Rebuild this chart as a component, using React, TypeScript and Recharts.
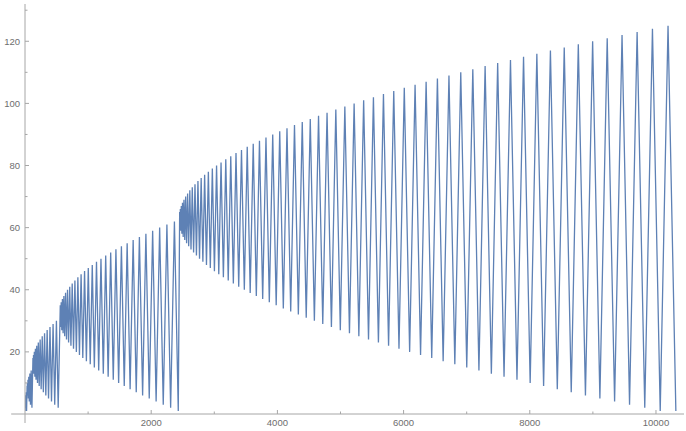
import { LineChart, Line, XAxis, YAxis, ReferenceLine } from "recharts";

// turning points of the walk
const startX = [1, 5, 7, 10, 14, 19, 25];
const startY = [1, 5, 3, 6, 2, 7, 1];

const block0X = [33, 35, 38, 42, 47, 53, 60, 68, 77, 87, 98, 110];
const block0Y = [9, 7, 10, 6, 11, 5, 12, 4, 13, 3, 14, 2];

const block1X = [126, 130, 135, 141, 148, 156, 165, 175, 186, 198, 211, 225, 240, 256, 273, 291, 310, 330, 351, 373, 396, 420, 445, 471, 498, 526];
const block1Y = [18, 14, 19, 13, 20, 12, 21, 11, 22, 10, 23, 9, 24, 8, 25, 7, 26, 6, 27, 5, 28, 4, 29, 3, 30, 2];

const block2X = [
  559, 566, 574, 583, 593, 604, 616, 629, 643, 658, 674, 691, 709, 728, 748, 769, 791, 814, 838, 863,
  889, 916, 944, 973, 1003, 1034, 1066, 1099, 1133, 1168, 1204, 1241, 1279, 1318, 1358, 1399, 1441, 1484,
  1528, 1573, 1619, 1666, 1714, 1763, 1813, 1864, 1916, 1969, 2023, 2078, 2134, 2191, 2249, 2308, 2368, 2429,
];
const block2Y = [
  35, 28, 36, 27, 37, 26, 38, 25, 39, 24, 40, 23, 41, 22, 42, 21, 43, 20, 44, 19,
  45, 18, 46, 17, 47, 16, 48, 15, 49, 14, 50, 13, 51, 12, 52, 11, 53, 10,
  54, 9, 55, 8, 56, 7, 57, 6, 58, 5, 59, 4, 60, 3, 61, 2, 62, 1,
];

const block3X = [
  2451, 2456, 2462, 2469, 2477, 2486,
  2496, 2507, 2519, 2532, 2546, 2561, 2577, 2594, 2612, 2631, 2651, 2672, 2694, 2717, 2741, 2766,
  2792, 2819, 2847, 2876, 2906, 2937, 2969, 3002, 3036, 3071, 3107, 3144, 3182, 3221, 3261, 3302,
  3344, 3387, 3431, 3476, 3522, 3569, 3617, 3666, 3716, 3767, 3819, 3872, 3926, 3981, 4037, 4094,
  4152, 4211, 4271, 4332, 4394, 4457, 4521, 4586, 4652, 4719, 4787, 4856, 4926, 4997, 5069, 5142,
  5216, 5291, 5367, 5444, 5522, 5601, 5681, 5762, 5844, 5927, 6011, 6096, 6182, 6269, 6357, 6446,
  6536, 6627, 6719, 6812, 6906, 7001, 7097, 7194, 7292, 7391, 7491, 7592, 7694, 7797, 7901, 8006,
  8112, 8219, 8327, 8436, 8546, 8657, 8769, 8882, 8996, 9111, 9227, 9344, 9462, 9581, 9701, 9822,
  9944, 10067, 10191, 10315,
];
const block3Y = [
  65, 60, 66, 59, 67, 58,
  68, 57, 69, 56, 70, 55, 71, 54, 72, 53, 73, 52, 74, 51, 75, 50,
  76, 49, 77, 48, 78, 47, 79, 46, 80, 45, 81, 44, 82, 43, 83, 42,
  84, 41, 85, 40, 86, 39, 87, 38, 88, 37, 89, 36, 90, 35, 91, 34,
  92, 33, 93, 32, 94, 31, 95, 30, 96, 29, 97, 28, 98, 27, 99, 26,
  100, 25, 101, 24, 102, 23, 103, 22, 104, 21, 105, 20, 106, 19, 107, 18,
  108, 17, 109, 16, 110, 15, 111, 14, 112, 13, 113, 12, 114, 11, 115, 10,
  116, 9, 117, 8, 118, 7, 119, 6, 120, 5, 121, 4, 122, 3, 123, 2,
  124, 1, 125, 1,
];

const xTicks = [500, 1000, 1500, 2000, 2500, 3000, 3500, 4000, 4500, 5000, 5500, 6000, 6500, 7000, 7500, 8000, 8500, 9000, 9500, 10000];
const yTicks = [5, 10, 15, 20, 25, 30, 35, 40, 45, 50, 55, 60, 65, 70, 75, 80, 85, 90, 95, 100, 105, 110, 115, 120, 125, 130];

const blocks: [number[], number[]][] = [
  [startX, startY],
  [block0X, block0Y],
  [block1X, block1Y],
  [block2X, block2Y],
  [block3X, block3Y],
];
const data = blocks.flatMap(([xs, ys]) => xs.map((x, i) => ({ x, y: ys[i] })));

const axisColor = "#a6a6a6";
const labelColor = "#6e6e6e";
const font = "'Liberation Sans', Arial, sans-serif";

function XTick(props: any) {
  const { x, y, payload } = props;
  const major = payload.value % 2000 === 0;
  return (
    <g>
      <line x1={x} y1={y} x2={x} y2={y - (major ? 4 : 2.5)} stroke={axisColor} strokeWidth={1} />
      {major && (
        <text x={x} y={y + 12} textAnchor="middle" fill={labelColor} fontSize={9.5} fontFamily={font}>
          {payload.value}
        </text>
      )}
    </g>
  );
}

function YTick(props: any) {
  const { x, y, payload } = props;
  const major = payload.value % 20 === 0;
  return (
    <g>
      <line x1={x} y1={y} x2={x + (major ? 4 : 2.5)} y2={y} stroke={axisColor} strokeWidth={1} />
      {major && (
        <text x={x - 5} y={y + 3.5} textAnchor="end" fill={labelColor} fontSize={9.5} fontFamily={font}>
          {payload.value}
        </text>
      )}
    </g>
  );
}

export default function App() {
  return (
    <div style={{ position: "fixed", left: 0, top: 0, background: "#fff" }}>
      <LineChart width={686} height={431} data={data} margin={{ top: 4, right: 2, left: 0, bottom: 0 }}>
        <XAxis
          type="number"
          dataKey="x"
          domain={[0, 10444]}
          ticks={xTicks}
          tick={<XTick />}
          tickSize={0}
          tickMargin={0}
          tickLine={false}
          height={17}
          stroke={axisColor}
          allowDataOverflow
        />
        <YAxis
          type="number"
          domain={[0, 132]}
          ticks={yTicks}
          tick={<YTick />}
          tickSize={0}
          tickMargin={0}
          tickLine={false}
          width={25}
          stroke={axisColor}
          allowDataOverflow
        />
        <ReferenceLine segment={[{ x: -219, y: 0 }, { x: 0, y: 0 }]} stroke={axisColor} ifOverflow="visible" />
        <ReferenceLine segment={[{ x: 0, y: -2.9 }, { x: 0, y: 0 }]} stroke={axisColor} ifOverflow="visible" />
        <Line
          type="linear"
          dataKey="y"
          stroke="#5e81b5"
          strokeWidth={1.3}
          dot={false}
          isAnimationActive={false}
        />
      </LineChart>
    </div>
  );
}
